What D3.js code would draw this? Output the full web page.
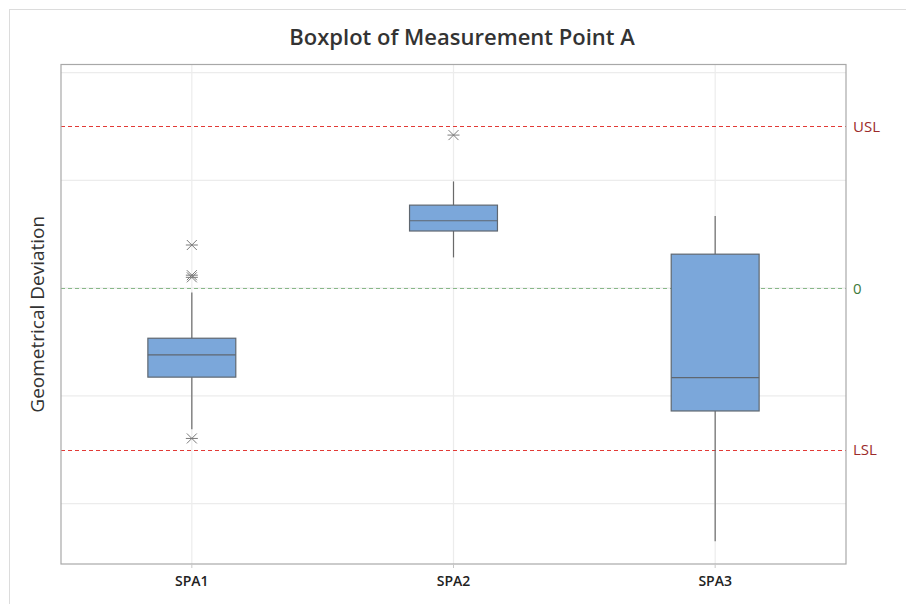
<!DOCTYPE html>
<html><head><meta charset="utf-8">
<script src="https://cdn.jsdelivr.net/npm/d3@7/dist/d3.min.js"></script>
<style>body{margin:0;background:#fff}svg{display:block}</style>
</head><body>
<script>
const categories = ["SPA1", "SPA2", "SPA3"];
const q1 = [-0.826, 0.53, -1.14];
const median = [-0.62, 0.625, -0.83];
const q3 = [-0.465, 0.77, 0.315];
const whiskerLow = [-1.31, 0.285, -2.35];
const whiskerHigh = [-0.04, 0.99, 0.67];
const outliers = [[0.40, 0.12, 0.10, -1.395], [1.42], []];
const gridValues = [-2, -1, 0, 1, 2];
const refLines = [{label: "USL", value: 1.5, kind: "spec"}, {label: "0", value: 0, kind: "target"}, {label: "LSL", value: -1.5, kind: "spec"}];
const yDomain = [-2.56, 2.075];

const W = 906, H = 604;
const m = {left: 61, right: 846, top: 64.5, bottom: 564};
const svg = d3.select("body").append("svg").attr("width", W).attr("height", H);

svg.append("rect").attr("x", 9.5).attr("y", 9.5).attr("width", 1000).attr("height", 1000)
  .attr("fill", "none").attr("stroke", "#dcdcdc");

const x = d3.scaleBand().domain(categories).range([m.left, m.right]).padding(0);
const y = d3.scaleLinear().domain(yDomain).range([m.bottom, m.top]);
const boxW = x.bandwidth() * 0.336;
const font = "'Open Sans', 'Noto Sans', sans-serif";

// gridlines
svg.append("g").selectAll("line").data(gridValues).join("line")
  .attr("x1", m.left).attr("x2", m.right).attr("y1", d => y(d)).attr("y2", d => y(d))
  .attr("stroke", "#ececec").attr("stroke-width", 1.2);
svg.append("g").selectAll("line").data(categories).join("line")
  .attr("x1", d => x(d) + x.bandwidth() / 2).attr("x2", d => x(d) + x.bandwidth() / 2)
  .attr("y1", m.top).attr("y2", m.bottom)
  .attr("stroke", "#ececec").attr("stroke-width", 1.2);

// reference lines
const refG = svg.append("g");
refG.selectAll("line").data(refLines).join("line")
  .attr("x1", m.left).attr("x2", m.right).attr("y1", d => Math.round(y(d.value)) + 0.5).attr("y2", d => Math.round(y(d.value)) + 0.5)
  .attr("stroke", d => d.kind === "spec" ? "#e23a36" : "#88b888")
  .attr("stroke-dasharray", "4,3").attr("stroke-width", 1);
refG.selectAll("text").data(refLines).join("text")
  .attr("x", m.right + 7).attr("y", d => y(d.value)).attr("dy", "0.36em")
  .attr("fill", d => d.kind === "spec" ? "#9b2a2a" : "#3d7a3d")
  .attr("font-family", font).attr("font-size", 15).attr("font-weight", 500).text(d => d.label);

// boxes
const data = categories.map((c, i) => ({c, q1: q1[i], med: median[i], q3: q3[i], lo: whiskerLow[i], hi: whiskerHigh[i], out: outliers[i]}));
const g = svg.append("g").selectAll("g").data(data).join("g")
  .attr("transform", d => `translate(${x(d.c) + x.bandwidth() / 2},0)`);
g.append("line").attr("x1", 0).attr("x2", 0).attr("y1", d => y(d.hi)).attr("y2", d => y(d.q3)).attr("stroke", "#6a6a6a").attr("stroke-width", 1.2);
g.append("line").attr("x1", 0).attr("x2", 0).attr("y1", d => y(d.q1)).attr("y2", d => y(d.lo)).attr("stroke", "#6a6a6a").attr("stroke-width", 1.2);
g.append("rect").attr("x", -boxW / 2).attr("width", boxW)
  .attr("y", d => y(d.q3)).attr("height", d => y(d.q1) - y(d.q3))
  .attr("fill", "#7ba7da").attr("stroke", "#5f6770").attr("stroke-width", 1.2);
g.append("line").attr("x1", -boxW / 2).attr("x2", boxW / 2).attr("y1", d => y(d.med)).attr("y2", d => y(d.med))
  .attr("stroke", "#5f6770").attr("stroke-width", 1.2);
const s = 5;
g.each(function(d) {
  d3.select(this).selectAll("path.out").data(d.out).join("path").attr("class", "out")
    .attr("d", v => { const cy = y(v); return `M${-s},${cy - s}L${s},${cy + s}M${-s},${cy + s}L${s},${cy - s}M${-s - 1},${cy}L${s + 1},${cy}`; })
    .attr("stroke", "#7a7a7a").attr("stroke-width", 1).attr("fill", "none");
});

// plot frame
svg.append("rect").attr("x", m.left).attr("y", m.top).attr("width", m.right - m.left).attr("height", m.bottom - m.top)
  .attr("fill", "none").attr("stroke", "#a8a8a8").attr("stroke-width", 1.2);

// x axis
const xAxis = svg.append("g").attr("transform", `translate(0,${m.bottom})`)
  .call(d3.axisBottom(x).tickSize(4).tickPadding(8));
xAxis.select(".domain").remove();
xAxis.selectAll(".tick line").attr("stroke", "#c8c8c8");
xAxis.selectAll(".tick text").attr("font-family", font).attr("font-size", 14).attr("font-weight", 600).attr("fill", "#222");

// title and labels
svg.append("text").attr("x", 462).attr("y", 45).attr("text-anchor", "middle")
  .attr("font-family", font).attr("font-size", 22).attr("font-weight", 600).attr("fill", "#333").text("Boxplot of Measurement Point A");
svg.append("text").attr("transform", `translate(44,${(m.top + m.bottom) / 2}) rotate(-90)`).attr("text-anchor", "middle")
  .attr("font-family", font).attr("font-size", 19).attr("fill", "#333").text("Geometrical Deviation");
</script>
</body></html>
